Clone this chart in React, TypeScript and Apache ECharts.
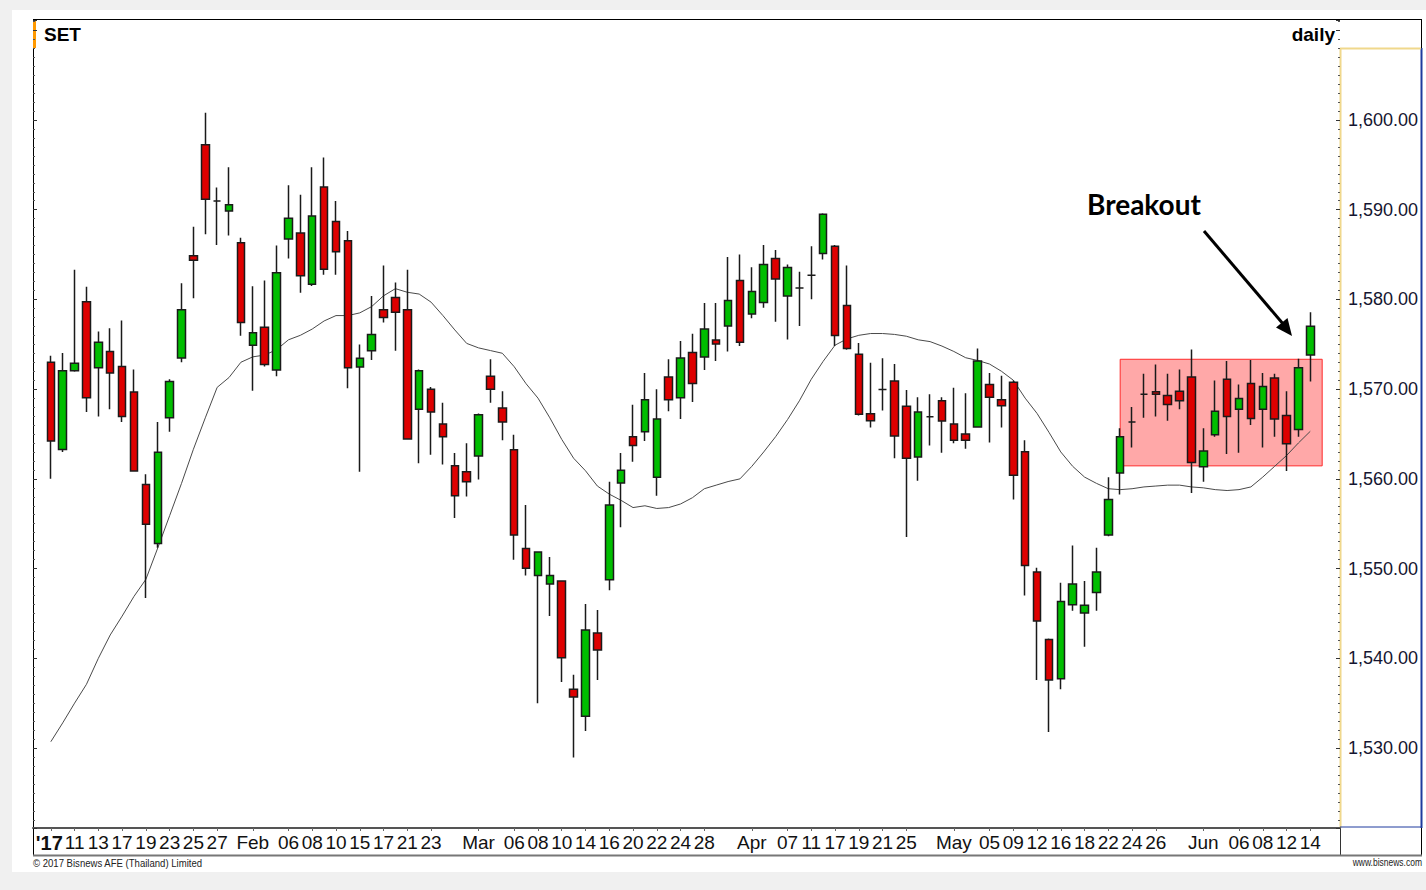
import React, { useEffect, useRef } from 'react';
import * as echarts from 'echarts';

const dates = [
  '01-09','01-10','01-11','01-12','01-13','01-16','01-17','01-18','01-19','01-20','01-23','01-24','01-25','01-26','01-27','01-30','01-31',
  '02-01','02-02','02-03','02-06','02-07','02-08','02-09','02-10','02-14','02-15','02-16','02-17','02-20','02-21','02-22','02-23','02-24','02-27','02-28',
  '03-01','03-02','03-03','03-06','03-07','03-08','03-09','03-10','03-13','03-14','03-15','03-16','03-17','03-20','03-21','03-22','03-23','03-24','03-27','03-28','03-29','03-30','03-31',
  '04-03','04-04','04-05','04-07','04-10','04-11','04-12','04-17','04-18','04-19','04-20','04-21','04-24','04-25','04-26','04-27','04-28',
  '05-02','05-03','05-04','05-05','05-08','05-09','05-11','05-12','05-15','05-16','05-17','05-18','05-19','05-22','05-23','05-24','05-25','05-26','05-29','05-30','05-31',
  '06-01','06-02','06-05','06-06','06-07','06-08','06-09','06-12','06-13','06-14',
];

const opens = [
  1573.00,1563.26,1572.05,1579.75,1572.38,1574.19,1572.52,1569.67,1559.36,1552.80,
  1566.82,1573.47,1584.88,1597.24,1590.97,1589.87,1586.31,1574.90,1576.90,1572.14,
  1586.74,1587.40,1581.70,1592.53,1588.68,1586.55,1572.48,1574.28,1578.85,1580.22,
  1578.85,1567.77,1570.00,1566.11,1561.45,1560.78,1562.54,1571.43,1567.91,1563.25,
  1552.23,1549.23,1548.28,1548.62,1536.54,1533.55,1542.82,1548.76,1559.55,1564.68,
  1565.25,1560.17,1571.34,1569.05,1574.09,1573.57,1575.47,1577.04,1582.12,1578.37,
  1579.65,1584.55,1580.37,1581.27,1582.70,1585.12,1585.93,1579.32,1573.90,1567.25,
  1569.96,1570.91,1568.10,1562.45,1566.91,1568.72,1566.11,1565.01,1565.77,1570.53,
  1568.82,1570.76,1563.02,1549.61,1542.10,1537.73,1545.98,1545.05,1547.33,1553.75,
  1560.64,1566.34,1569.43,1569.72,1569.29,1569.77,1571.34,1561.35,1564.92,1571.10,
  1567.77,1570.62,1567.77,1571.24,1567.06,1565.49,1573.81,
];

const closes = [
  1564.21,1572.05,1572.90,1569.05,1575.23,1571.81,1566.96,1560.88,1554.94,1562.97,
  1570.86,1578.85,1584.36,1591.16,1590.97,1590.54,1577.42,1576.28,1572.76,1582.98,
  1589.06,1582.65,1589.30,1583.36,1585.31,1572.38,1573.43,1576.09,1577.99,1578.56,
  1564.44,1572.05,1567.44,1564.68,1558.12,1559.69,1567.15,1570.00,1566.34,1553.75,
  1550.04,1551.85,1549.23,1540.06,1535.69,1543.15,1540.91,1557.08,1560.97,1563.73,
  1568.82,1566.68,1568.82,1573.47,1570.62,1576.71,1575.04,1579.89,1575.23,1580.89,
  1583.88,1582.27,1583.55,1581.27,1582.70,1589.49,1575.99,1574.52,1567.20,1566.49,
  1569.96,1564.78,1562.30,1567.44,1566.91,1566.44,1564.30,1564.30,1573.14,1569.10,
  1568.15,1560.40,1550.33,1544.15,1537.59,1546.33,1548.28,1545.91,1549.61,1557.70,
  1564.68,1566.34,1569.43,1569.43,1568.29,1568.72,1561.83,1563.11,1567.53,1566.96,
  1568.96,1566.72,1570.29,1566.68,1563.92,1572.38,1577.00,
];

const lows = [
  1560.02,1563.00,1571.95,1567.44,1566.96,1567.77,1566.34,1560.78,1546.71,1552.32,
  1565.25,1573.00,1580.13,1587.26,1586.07,1587.12,1575.95,1569.81,1572.52,1571.43,
  1584.55,1580.75,1581.50,1582.74,1582.74,1570.10,1560.78,1573.24,1577.42,1574.28,
  1564.35,1561.73,1562.68,1561.59,1555.65,1558.03,1559.93,1568.48,1564.30,1550.99,
  1549.23,1534.98,1544.72,1537.35,1528.94,1531.89,1537.59,1547.57,1554.61,1561.92,
  1564.21,1558.12,1567.53,1566.68,1568.58,1572.14,1573.14,1574.19,1574.81,1577.90,
  1579.08,1577.51,1575.52,1577.04,1580.03,1584.45,1574.81,1574.40,1567.06,1565.73,
  1567.63,1562.30,1553.51,1559.79,1563.73,1562.92,1563.97,1563.35,1565.70,1564.06,
  1565.73,1557.70,1547.00,1537.59,1531.79,1536.54,1545.29,1541.30,1545.29,1553.60,
  1558.27,1563.49,1566.82,1566.96,1566.49,1567.77,1558.41,1559.69,1564.68,1562.78,
  1562.92,1566.01,1563.49,1564.68,1560.88,1564.68,1570.86,
];

const highs = [
  1573.71,1574.04,1583.31,1581.41,1576.42,1576.80,1577.66,1572.19,1560.50,1566.34,
  1571.10,1581.79,1588.11,1600.80,1592.49,1594.72,1586.88,1581.46,1582.12,1586.02,
  1592.72,1591.68,1594.72,1595.81,1590.97,1587.64,1574.99,1580.37,1583.79,1581.89,
  1583.31,1572.19,1570.24,1568.48,1562.87,1563.97,1567.29,1573.33,1569.77,1564.92,
  1557.08,1551.90,1551.28,1548.70,1538.16,1546.05,1545.38,1559.69,1562.87,1568.25,
  1571.81,1570.00,1573.33,1575.38,1576.18,1579.61,1579.61,1584.74,1585.02,1583.60,
  1586.07,1585.50,1583.88,1583.08,1585.93,1589.60,1586.07,1583.79,1575.14,1572.95,
  1573.43,1572.81,1569.91,1569.10,1569.43,1569.10,1570.15,1569.53,1574.52,1571.81,
  1571.48,1570.95,1564.30,1550.09,1542.20,1548.43,1552.56,1548.62,1552.32,1560.17,
  1565.63,1568.01,1571.71,1572.76,1571.71,1572.19,1574.42,1565.63,1570.95,1573.14,
  1570.53,1573.24,1571.81,1571.71,1569.77,1573.38,1578.56,
];

const maValues = [
  1530.7,1532.8,1535.0,1537.1,1540.0,1542.6,1544.7,1546.9,1548.8,1552.3,
  1555.9,1559.5,1563.3,1566.8,1570.2,1571.3,1573.0,1573.6,1573.8,1574.4,
  1575.5,1576.0,1576.7,1577.6,1578.2,1578.2,1578.5,1579.2,1580.4,1581.2,
  1580.8,1580.6,1579.7,1578.2,1576.6,1575.1,1574.6,1574.3,1574.0,1572.5,
  1570.6,1569.0,1566.8,1564.4,1562.3,1560.9,1559.2,1558.3,1557.6,1556.8,
  1557.0,1556.7,1556.8,1557.2,1557.9,1558.9,1559.3,1559.7,1560.0,1561.4,
  1563.0,1564.7,1566.6,1568.7,1571.1,1573.1,1574.9,1575.6,1576.0,1576.2,
  1576.2,1576.1,1575.9,1575.5,1575.3,1574.8,1574.2,1573.5,1573.2,1572.8,
  1572.0,1571.0,1569.0,1567.3,1565.2,1563.0,1561.4,1560.2,1559.5,1558.9,
  1558.8,1558.9,1559.1,1559.2,1559.3,1559.3,1559.1,1559.0,1558.8,1558.7,
  1558.8,1559.1,1560.2,1561.4,1562.6,1564.0,1565.3,
];

const tickLabelDates = [
  '01-09','01-11','01-13','01-17','01-19','01-23','01-25','01-27',
  '02-01','02-06','02-08','02-10','02-15','02-17','02-21','02-23',
  '03-01','03-06','03-08','03-10','03-14','03-16','03-20','03-22','03-24','03-28',
  '04-03','04-07','04-11','04-17','04-19','04-21','04-25',
  '05-02','05-05','05-09','05-12','05-16','05-18','05-22','05-24','05-26',
  '06-01','06-06','06-08','06-12','06-14',
];
const tickLabelTexts = [
  "'17",'11','13','17','19','23','25','27',
  'Feb','06','08','10','15','17','21','23',
  'Mar','06','08','10','14','16','20','22','24','28',
  'Apr','07','11','17','19','21','25',
  'May','05','09','12','16','18','22','24','26',
  'Jun','06','08','12','14',
];

const yLabelMax = 1600;
const boxStartDate = '05-23';
const boxTop = 1573.33;
const boxBottom = 1561.45;
const lastClose = 1577.0;

const Y_MIN = 1521.083;
const Y_MAX = 1611.147;

const padLeft = ['pad0'];
const padRight = ['pad1', 'pad2'];
const categories = [...padLeft, ...dates, ...padRight];

const FONT = "'Liberation Sans', Arial, sans-serif";

function fmtPrice(v: number) {
  return v.toLocaleString('en-US', { minimumFractionDigits: 2, maximumFractionDigits: 2 });
}

export default function App() {
  const ref = useRef<HTMLDivElement>(null);

  useEffect(() => {
    if (!ref.current) return;
    const chart = echarts.init(ref.current, null, { renderer: 'svg' });

    const labelMap: Record<string, string> = {};
    tickLabelDates.forEach((d, i) => (labelMap[d] = tickLabelTexts[i]));

    const candleData: any[] = padLeft.map(() => ['-', '-', '-', '-']);
    dates.forEach((_, i) => candleData.push([opens[i], closes[i], lows[i], highs[i]]));
    const maData: any[] = padLeft.map(() => '-');
    maValues.forEach((v) => maData.push(v));

    const isLabeled = (idx: number, value: string) => !!labelMap[value];

    const yCommon = {
      type: 'value',
      min: Y_MIN,
      max: Y_MAX,
      splitNumber: 9,
      splitLine: { show: false },
      axisLine: { show: false },
      axisTick: { show: true, inside: true, length: 4, lineStyle: { color: '#333', width: 1 } },
      minorTick: { show: true, splitNumber: 10, length: 2, lineStyle: { color: '#555', width: 1 } },
    };

    const option: any = {
      animation: false,
      backgroundColor: 'transparent',
      grid: { left: 33, top: 20, right: 86, bottom: 62, containLabel: false },
      xAxis: {
        type: 'category',
        data: categories,
        boundaryGap: true,
        axisLine: { show: true, lineStyle: { color: '#555', width: 2 } },
        axisTick: { show: true, alignWithLabel: true, interval: isLabeled, length: 3, lineStyle: { color: '#666' } },
        axisLabel: {
          interval: isLabeled,
          margin: 5,
          fontSize: 19,
          fontFamily: FONT,
          color: '#111',
          formatter: (value: string) => {
            const t = labelMap[value];
            if (!t) return '';
            return t === "'17" ? `{b|${t}}` : t;
          },
          rich: { b: { fontWeight: 'bold', fontSize: 20, fontFamily: FONT, color: '#111', padding: [0, 3, 0, 0] } },
        },
        splitLine: { show: false },
      },
      yAxis: [
        {
          ...yCommon,
          position: 'right',
          axisLabel: {
            margin: 8,
            fontSize: 18,
            fontFamily: FONT,
            color: '#151530',
            formatter: (v: number) =>
              Math.abs(v - Math.round(v / 10) * 10) < 1e-6 && v <= yLabelMax + 1e-6 ? fmtPrice(v) : '',
          },
        },
        {
          ...yCommon,
          position: 'left',
          axisLabel: { show: false },
        },
      ],
      series: [
        {
          type: 'line',
          name: 'MA',
          data: maData,
          yAxisIndex: 0,
          symbol: 'none',
          z: 1,
          lineStyle: { color: '#4a4a4a', width: 1 },
          markArea: {
            silent: true,
            itemStyle: { color: 'rgba(255,0,0,0.34)', borderColor: '#ff2a2a', borderWidth: 1 },
            data: [[{ xAxis: boxStartDate, yAxis: boxTop }, { xAxis: padRight[0], yAxis: boxBottom }]],
          },
        },
        {
          type: 'candlestick',
          name: 'SET',
          data: candleData,
          yAxisIndex: 0,
          z: 3,
          barWidth: 8,
          itemStyle: {
            color: '#00BE00',
            color0: '#DE0000',
            borderColor: '#1a1a1a',
            borderColor0: '#1a1a1a',
            borderWidth: 1.5,
          },
          markLine: {
            silent: true,
            symbol: 'none',
            lineStyle: { opacity: 0 },
            data: [{ yAxis: lastClose }],
            label: {
              show: true,
              position: 'end',
              distance: 2,
              formatter: fmtPrice(lastClose),
              color: '#fff',
              backgroundColor: '#2E58DA',
              fontSize: 18,
              fontFamily: FONT,
              padding: [2, 1, 1, 1],
            },
          },
        },
      ],
      graphic: [
        { type: 'line', shape: { x1: 33, y1: 19.5, x2: 1422, y2: 19.5 }, style: { stroke: '#000', lineWidth: 1 } },
        { type: 'line', shape: { x1: 33.5, y1: 19, x2: 33.5, y2: 856 }, style: { stroke: '#000', lineWidth: 1 } },
        { type: 'line', shape: { x1: 1421.5, y1: 19, x2: 1421.5, y2: 856 }, style: { stroke: '#000', lineWidth: 1 } },
        { type: 'line', shape: { x1: 1421.5, y1: 48, x2: 1421.5, y2: 828 }, style: { stroke: '#1E3A9E', lineWidth: 2 } },
        { type: 'line', shape: { x1: 1340.5, y1: 48, x2: 1340.5, y2: 828 }, style: { stroke: '#F0D88C', lineWidth: 2 } },
        { type: 'line', shape: { x1: 1340, y1: 48.5, x2: 1421, y2: 48.5 }, style: { stroke: '#F0D88C', lineWidth: 2 } },
        { type: 'line', shape: { x1: 1340, y1: 827, x2: 1422, y2: 827 }, style: { stroke: '#1E3A9E', lineWidth: 1 } },
        { type: 'line', shape: { x1: 1340.5, y1: 828, x2: 1340.5, y2: 855 }, style: { stroke: '#333', lineWidth: 1 } },
        { type: 'line', shape: { x1: 33, y1: 855.5, x2: 1422, y2: 855.5 }, style: { stroke: '#777', lineWidth: 2 } },
        { type: 'rect', shape: { x: 33, y: 20, width: 3, height: 28 }, style: { fill: '#FF9900' } },
        {
          type: 'text', x: 44, y: 34,
          style: { text: 'SET', font: `bold 19px ${FONT}`, fill: '#000', verticalAlign: 'middle' },
        },
        {
          type: 'text', x: 1335, y: 34,
          style: { text: 'daily', font: `bold 19px ${FONT}`, fill: '#000', align: 'right', verticalAlign: 'middle' },
        },
        {
          type: 'text', x: 1087, y: 204,
          style: { text: 'Breakout', font: `bold 28px Lato, 'Open Sans', sans-serif`, fill: '#000', verticalAlign: 'middle' },
        },
        { type: 'line', shape: { x1: 1204, y1: 231, x2: 1284, y2: 325 }, style: { stroke: '#000', lineWidth: 3 } },
        {
          type: 'polygon',
          shape: { points: [[1292, 336], [1276, 327.5], [1287.5, 318]] },
          style: { fill: '#000' },
        },
        {
          type: 'text', x: 33, y: 863, scaleX: 0.87,
          style: { text: '\u00A9 2017 Bisnews AFE (Thailand) Limited', font: `11px ${FONT}`, fill: '#222', verticalAlign: 'middle' },
        },
        {
          type: 'text', x: 1422, y: 863, scaleX: 0.85,
          style: { text: 'www.bisnews.com', font: `10px ${FONT}`, fill: '#222', align: 'right', verticalAlign: 'middle' },
        },
      ],
    };

    chart.setOption(option);
    return () => chart.dispose();
  }, []);

  return (
    <div style={{ position: 'absolute', left: 0, top: 0, width: 1426, height: 890, background: '#F0F0F0' }}>
      <div style={{ position: 'absolute', left: 12, top: 10, width: 1414, height: 862, background: '#fff' }} />
      <div ref={ref} style={{ position: 'absolute', left: 0, top: 0, width: 1426, height: 890 }} />
    </div>
  );
}
